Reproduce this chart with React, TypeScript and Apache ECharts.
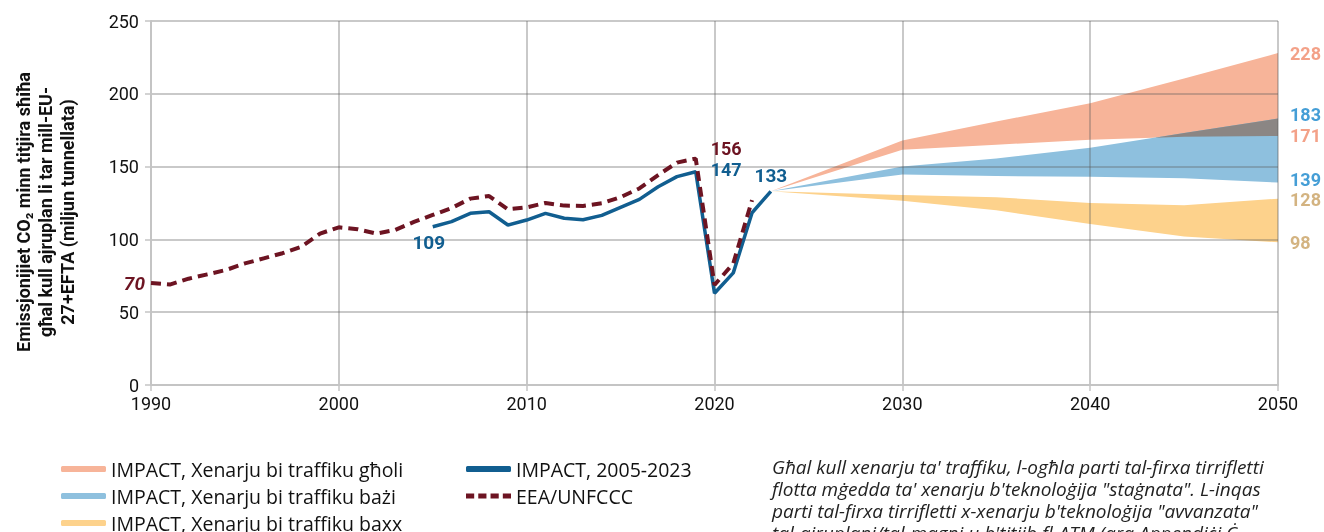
import React, { useEffect, useRef } from "react";
import * as echarts from "echarts";

const FONT = "Roboto, 'Open Sans', sans-serif";
const FONT_TXT = "'Open Sans', Roboto, sans-serif";

// Historical series
const eeaStartYear = 1990;
const eeaValues = [70, 69, 73, 76, 79, 83.5, 87, 90.5, 95, 104, 108.3, 107, 104, 106.5, 112, 116.8, 121.5, 128, 129.8, 120.7, 122, 125, 123.2, 123, 124.8, 129, 135, 144.2, 152.7, 155.5, 68.7, 83.5, 127];
const impactStartYear = 2005;
const impactValues = [108.7, 112.2, 117.9, 119, 109.9, 113.3, 117.9, 114.5, 113.5, 116.5, 122, 127.5, 136.2, 143.1, 146.5, 63, 77, 118.3, 133];

// Projection bands
const projYears = [2023, 2030, 2035, 2040, 2045, 2050];
const highUpper = [133, 168, 181, 193.5, 210.5, 228];
const highLower = [133, 161.5, 165, 168.5, 170.5, 171];
const baseUpper = [133, 150, 155.5, 163, 173, 183];
const baseLower = [133, 144.5, 143.5, 143, 142, 139];
const lowUpper = [133, 130.5, 129, 125, 123.5, 128];
const lowLower = [133, 126.5, 120, 110.5, 102, 98];

const xTicks = [1990, 2000, 2010, 2020, 2030, 2040, 2050];

const NAME_HIGH = "IMPACT, Xenarju bi traffiku għoli";
const NAME_BASE = "IMPACT, Xenarju bi traffiku bażi";
const NAME_LOW = "IMPACT, Xenarju bi traffiku baxx";
const NAME_IMPACT = "IMPACT, 2005-2023";
const NAME_EEA = "EEA/UNFCCC";

const C_HIGH = "#f7b499";
const C_BASE = "#8ec0de";
const C_LOW = "#fdd28c";
const C_OVER = "#8b8684";
const C_IMPACT = "#115e90";
const C_EEA = "#6d1422";
const L_HIGH = "#f08a6a";
const L_BASE = "#1786cc";
const L_LOW = "#c8a062";

function computeOverlap(years: number[], lower: number[], top: number[]) {
  const ys: number[] = [];
  const lo: number[] = [];
  const hi: number[] = [];
  for (let i = 0; i < years.length - 1; i++) {
    const d0 = top[i] - lower[i];
    const d1 = top[i + 1] - lower[i + 1];
    if (d0 <= 0 && d1 > 0) {
      const t = -d0 / (d1 - d0);
      const yr = years[i] + t * (years[i + 1] - years[i]);
      const v = lower[i] + t * (lower[i + 1] - lower[i]);
      ys.push(yr); lo.push(v); hi.push(v);
    }
    if (d1 > 0) {
      ys.push(years[i + 1]); lo.push(lower[i + 1]); hi.push(top[i + 1]);
    }
  }
  return { ys, lo, hi };
}

function bandSeries(name: string, years: number[], lo: number[], hi: number[], color: string, z: number) {
  return {
    type: "custom",
    name,
    z,
    itemStyle: { color },
    encode: { x: 0, y: [1, 2] },
    data: years.map((y, i) => [y, lo[i], hi[i]]),
    renderItem: (params: any, api: any) => {
      if (params.dataIndex !== 0) return null;
      const pts: number[][] = [];
      for (let i = 0; i < years.length; i++) pts.push(api.coord([years[i], hi[i]]));
      for (let i = years.length - 1; i >= 0; i--) pts.push(api.coord([years[i], lo[i]]));
      return { type: "polygon", shape: { points: pts }, style: { fill: color } };
    },
  };
}

export default function App() {
  const ref = useRef<HTMLDivElement>(null);
  useEffect(() => {
    if (!ref.current) return;
    const chart = echarts.init(ref.current, null, { renderer: "svg" });
    const ov = computeOverlap(projYears, highLower, baseUpper);
    const last = projYears.length - 1;
    const lbl = { fontFamily: FONT, fontWeight: "bold", fontSize: 19 } as any;

    const eeaData = eeaValues.map((v, i) => {
      const yr = eeaStartYear + i;
      if (i === 0) return { value: [yr, v], label: { show: true, position: "left", distance: 6, fontStyle: "italic", color: C_EEA, ...lbl } };
      if (yr === 2019) return { value: [yr, v], label: { show: true, position: "right", distance: 2, offset: [13, -10], color: C_EEA, ...lbl, fontSize: 18 } };
      return [yr, v];
    });
    const impactData = impactValues.map((v, i) => {
      const yr = impactStartYear + i;
      if (i === 0) return { value: [yr, v], label: { show: true, position: "bottom", distance: 6, offset: [-4, 0], color: C_IMPACT, ...lbl } };
      if (yr === 2019) return { value: [yr, v], label: { show: true, position: "right", distance: 2, offset: [13, -2], color: C_IMPACT, ...lbl, fontSize: 18 } };
      if (i === impactValues.length - 1) return { value: [yr, v], label: { show: true, position: "top", distance: 6, color: C_IMPACT, ...lbl } };
      return [yr, v];
    });

    const endLabels = [
      { value: [projYears[last], highUpper[last]], label: { color: L_HIGH, offset: [0, 0] } },
      { value: [projYears[last], baseUpper[last]], label: { color: L_BASE, offset: [0, -4] } },
      { value: [projYears[last], highLower[last]], label: { color: L_HIGH, offset: [0, -1] } },
      { value: [projYears[last], baseLower[last]], label: { color: L_BASE, offset: [0, -3] } },
      { value: [projYears[last], lowUpper[last]], label: { color: L_LOW, offset: [0, 1] } },
      { value: [projYears[last], lowLower[last]], label: { color: L_LOW, offset: [0, 0] } },
    ];

    const legendText = { fontFamily: FONT_TXT, fontSize: 19.5, color: "#111", lineHeight: 22 };

    chart.setOption({
      animation: false,
      grid: { left: 151, right: 46, top: 21, bottom: 147, containLabel: false },
      xAxis: {
        type: "value",
        min: 1990,
        max: 2050,
        interval: 10,
        z: 3,
        axisLine: { show: true, lineStyle: { color: "#c4c4c4", width: 2 } },
        axisTick: { show: true, length: 6, lineStyle: { color: "#c4c4c4", width: 1.5 } },
        axisLabel: { margin: 9, fontFamily: FONT, fontSize: 18, color: "#111", formatter: (v: number) => (xTicks.includes(v) ? String(v) : "") },
        splitLine: { show: true, lineStyle: { color: "rgba(90,90,90,0.33)", width: 2 } },
      },
      yAxis: {
        type: "value",
        min: 0,
        max: 250,
        interval: 50,
        z: 3,
        axisLine: { show: true, lineStyle: { color: "#c4c4c4", width: 2 } },
        axisTick: { show: true, length: 6, lineStyle: { color: "#c4c4c4", width: 1.5 } },
        axisLabel: { margin: 12, fontFamily: FONT, fontSize: 18, color: "#111" },
        splitLine: { show: true, lineStyle: { color: "rgba(90,90,90,0.33)", width: 2 } },
      },
      legend: [
        {
          left: 56,
          top: 453,
          height: 120,
          orient: "vertical",
          itemWidth: 45,
          itemHeight: 6,
          itemGap: 5,
          textStyle: legendText,
          selectedMode: false,
          data: [
            { name: NAME_HIGH, icon: "roundRect", itemStyle: { color: C_HIGH } },
            { name: NAME_BASE, icon: "roundRect", itemStyle: { color: C_BASE } },
            { name: NAME_LOW, icon: "roundRect", itemStyle: { color: C_LOW } },
          ],
        },
        {
          left: 461,
          top: 453,
          height: 120,
          orient: "vertical",
          itemWidth: 45,
          itemHeight: 6,
          itemGap: 5,
          textStyle: legendText,
          selectedMode: false,
          data: [
            { name: NAME_IMPACT, icon: "roundRect", itemStyle: { color: C_IMPACT } },
            { name: NAME_EEA, icon: "path://M0,0h8v5h-8z M12,0h8v5h-8z M24,0h8v5h-8z M36,0h8v5h-8z", itemStyle: { color: C_EEA } },
          ],
        },
      ],
      graphic: [
        {
          type: "text",
          x: 45,
          y: 212,
          rotation: Math.PI / 2,
          style: {
            text: "Emissjonijiet CO₂ minn titjira sħiħa\ngħal kull ajruplan li tar mill-EU-\n27+EFTA (miljun tunnellata)",
            font: "bold 18px " + FONT,
            fill: "#111",
            align: "center",
            verticalAlign: "middle",
            lineHeight: 22,
          },
        },
        {
          type: "text",
          left: 772,
          top: 456,
          style: {
            text: "Għal kull xenarju ta' traffiku, l-ogħla parti tal-firxa tirrifletti\nflotta mġedda ta' xenarju b'teknoloġija \"staġnata\". L-inqas\nparti tal-firxa tirrifletti x-xenarju b'teknoloġija \"avvanzata\"\ntal-ajruplani/tal-magni u b'titjib fl-ATM (ara Appendiċi Ċ",
            font: "italic 19px " + FONT_TXT,
            fill: "#222",
            lineHeight: 22,
          },
        },
      ],
      series: [
        bandSeries(NAME_HIGH, projYears, highLower, highUpper, C_HIGH, 1),
        bandSeries(NAME_BASE, projYears, baseLower, baseUpper, C_BASE, 1),
        bandSeries("overlap", ov.ys, ov.lo, ov.hi, C_OVER, 1),
        bandSeries(NAME_LOW, projYears, lowLower, lowUpper, C_LOW, 1),
        {
          type: "line",
          name: NAME_EEA,
          z: 6,
          showSymbol: true,
          symbol: "circle",
          symbolSize: 0,
          lineStyle: { color: C_EEA, width: 4, type: [10, 6] },
          itemStyle: { color: C_EEA },
          label: { formatter: (p: any) => String(Math.round(p.value[1])) },
          data: eeaData,
        },
        {
          type: "line",
          name: NAME_IMPACT,
          z: 5,
          showSymbol: true,
          symbol: "circle",
          symbolSize: 0,
          lineStyle: { color: C_IMPACT, width: 3.5 },
          itemStyle: { color: C_IMPACT },
          label: { formatter: (p: any) => String(Math.round(p.value[1])) },
          data: impactData,
        },
        {
          type: "scatter",
          name: "endLabels",
          z: 6,
          symbolSize: 0,
          label: { show: true, position: "right", distance: 12, ...lbl, fontSize: 18, formatter: (p: any) => String(Math.round(p.value[1])) },
          data: endLabels,
        },
      ],
    });
    return () => chart.dispose();
  }, []);
  return <div ref={ref} style={{ position: "fixed", left: 0, top: 0, width: 1324, height: 532 }} />;
}
